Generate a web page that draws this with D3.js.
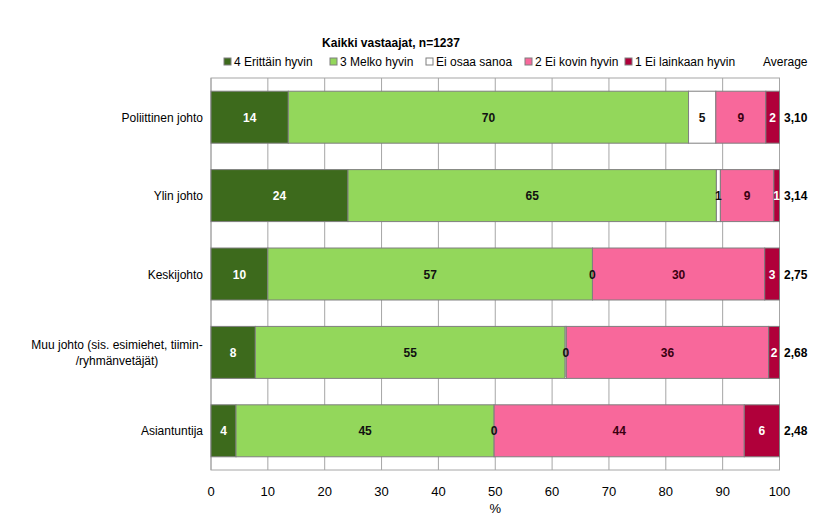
<!DOCTYPE html>
<html>
<head>
<meta charset="utf-8">
<script src="https://cdn.jsdelivr.net/npm/d3@7"></script>
<style>
  body { margin: 0; background: #fff; }
  svg { display: block; font-family: "Liberation Sans", Arial, sans-serif; }
</style>
</head>
<body>
<svg id="chart" width="816" height="525"></svg>
<script>
const title = "Kaikki vastaajat, n=1237";
const categories = [
  ["Poliittinen johto"],
  ["Ylin johto"],
  ["Keskijohto"],
  ["Muu johto (sis. esimiehet, tiimin-", "/ryhmänvetäjät)"],
  ["Asiantuntija"]
];
const seriesNames = ["4 Erittäin hyvin", "3 Melko hyvin", "Ei osaa sanoa", "2 Ei kovin hyvin", "1 Ei lainkaan hyvin"];
const s4 = [13.6, 24.1, 10.0, 7.8, 4.4];
const s3 = [70.4, 64.8, 57.1, 54.5, 45.4];
const sEOS = [4.8, 0.7, 0.0, 0.2, 0.0];
const s2 = [8.8, 9.4, 30.3, 35.6, 44.0];
const s1 = [2.4, 1.0, 2.6, 1.9, 6.2];
const averages = ["3,10", "3,14", "2,75", "2,68", "2,48"];
const xTicks = [0, 10, 20, 30, 40, 50, 60, 70, 80, 90, 100];

const colors = ["#3d6a1c", "#93d75b", "#ffffff", "#f8689b", "#b0003a"];
const textColors = ["#ffffff", "#111111", "#111111", "#3a0010", "#ffffff"];
const series = [s4, s3, sEOS, s2, s1];

const svg = d3.select("#chart");
const pLeft = 211, pRight = 779.5, pTop = 78, pBottom = 470;

const x = d3.scaleLinear().domain([0, 100]).range([pLeft, pRight]);
const y = d3.scaleBand().domain(d3.range(categories.length)).range([pTop, pBottom]).paddingInner(0.337).paddingOuter(0.1685);

// gridlines
svg.append("g").selectAll("line").data(xTicks).join("line")
  .attr("x1", d => x(d)).attr("x2", d => x(d))
  .attr("y1", pTop).attr("y2", pBottom)
  .attr("stroke", "#a6a6a6").attr("stroke-width", 1);
// plot border
svg.append("rect").attr("x", pLeft).attr("y", pTop).attr("width", pRight - pLeft).attr("height", pBottom - pTop)
  .attr("fill", "none").attr("stroke", "#a6a6a6").attr("stroke-width", 1);

// stacked bars
const rows = categories.map((c, i) => {
  let acc = 0;
  return series.map((s, k) => { const x0 = acc; acc += s[i]; return { i, k, x0, x1: acc, v: s[i] }; });
});
const segs = rows.flat();
svg.append("g").selectAll("rect").data(segs).join("rect")
  .attr("x", d => x(d.x0)).attr("width", d => x(d.x1) - x(d.x0))
  .attr("y", d => y(d.i)).attr("height", y.bandwidth())
  .attr("fill", d => colors[d.k]).attr("stroke", "#7f7f7f").attr("stroke-width", 1);

svg.append("g").selectAll("text").data(segs).join("text")
  .attr("x", d => x((d.x0 + d.x1) / 2)).attr("y", d => y(d.i) + y.bandwidth() / 2 + 4.5)
  .attr("text-anchor", "middle").attr("font-size", 12).attr("font-weight", "bold")
  .attr("fill", d => textColors[d.k])
  .text(d => Math.round(d.v));

// averages
svg.append("g").selectAll("text").data(averages).join("text")
  .attr("x", 784).attr("y", (d, i) => y(i) + y.bandwidth() / 2 + 4.5)
  .attr("font-size", 12).attr("font-weight", "bold").attr("fill", "#000")
  .text(d => d);

// category labels
const cat = svg.append("g").selectAll("text").data(categories).join("text")
  .attr("font-size", 12).attr("fill", "#000");
cat.each(function(lines, i) {
  const t = d3.select(this);
  const cy = y(i) + y.bandwidth() / 2;
  const n = lines.length;
  lines.forEach((ln, j) => {
    t.append("tspan").attr("x", n > 1 ? 117 : 203).attr("text-anchor", n > 1 ? "middle" : "end")
      .attr("y", cy + 4.5 + (j - (n - 1) / 2) * 16).text(ln);
  });
});

// x axis labels
svg.append("g").selectAll("text").data(xTicks).join("text")
  .attr("x", d => x(d)).attr("y", 496).attr("text-anchor", "middle")
  .attr("font-size", 13).attr("fill", "#000").text(d => d);
svg.append("text").attr("x", x(50)).attr("y", 513).attr("text-anchor", "middle")
  .attr("font-size", 13).attr("fill", "#000").text("%");

// title
svg.append("text").attr("x", 391).attr("y", 47).attr("text-anchor", "middle")
  .attr("font-size", 12).attr("font-weight", "bold").attr("fill", "#000").text(title);

// legend
const legX = [224, 330, 426, 525, 625];
const lg = svg.append("g").selectAll("g").data(seriesNames).join("g")
  .attr("transform", (d, i) => `translate(${legX[i]},0)`);
lg.append("rect").attr("x", 0).attr("y", 58).attr("width", 7).attr("height", 7)
  .attr("fill", (d, i) => colors[i]).attr("stroke", "#7f7f7f").attr("stroke-width", 1);
lg.append("text").attr("x", 10).attr("y", 66).attr("font-size", 12).attr("fill", "#000").text(d => d);
svg.append("text").attr("x", 763).attr("y", 66).attr("font-size", 12).attr("fill", "#000").text("Average");
</script>
</body>
</html>
